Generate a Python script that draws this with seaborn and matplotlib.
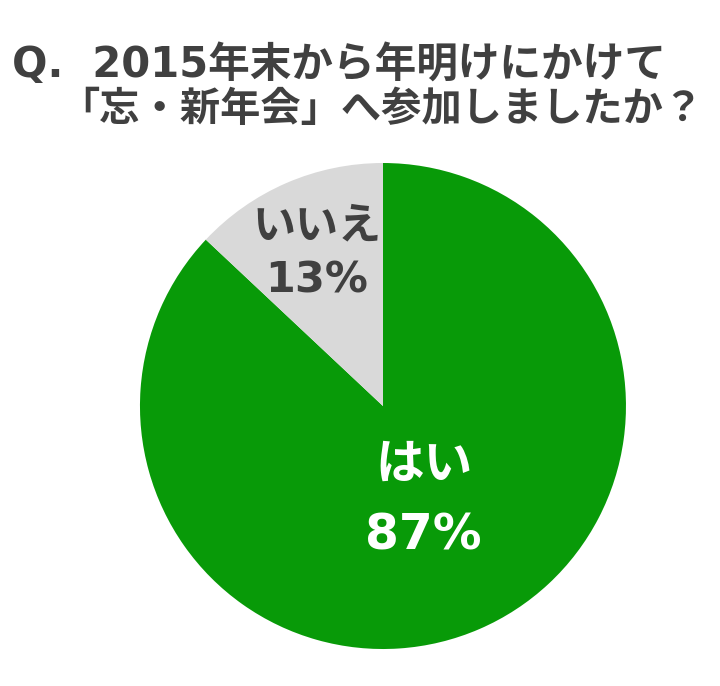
import numpy as np
import matplotlib.pyplot as plt
import seaborn as sns

# データ
labels = ['はい', 'いいえ']
values = [87, 13]
colors = ['#089A08', '#D9D9D9']
text_colors = ['white', '#404040']
title_lines = ['Q.  2015年末から年明けにかけて', '「忘・新年会」へ参加しましたか？']

sns.set_theme(style='white')
# 英数字は DejaVu Sans、かなと漢字は Noto Sans CJK JP
plt.rcParams['font.family'] = ['DejaVu Sans', 'Noto Sans CJK JP']

fig = plt.figure(figsize=(7.2, 6.86), dpi=100)
ax = fig.add_axes([0.1944, 0.0539, 0.675, 0.7085])

wedges, _ = ax.pie(values, colors=colors, startangle=90, counterclock=False,
                   wedgeprops={'linewidth': 0})
ax.set_xlim(-1, 1)
ax.set_ylim(-1, 1)
ax.set_aspect('equal')

# ラベル（扇形の中央角から配置）
label_r = [0.42, 0.685]
label_size = [35, 31]
label_ls = [1.6, 1.36]
for w, lab, v, r, fs, ls, tc in zip(wedges, labels, values, label_r, label_size, label_ls, text_colors):
    ang = np.deg2rad((w.theta1 + w.theta2) / 2)
    ax.text(r * np.cos(ang), r * np.sin(ang), f'{lab}\n{v}%', ha='center', va='center',
            fontsize=fs, fontweight='bold', color=tc, linespacing=ls)

fig.text(0.017, 0.905, title_lines[0], fontsize=30, fontweight='bold',
         color='#404040', ha='left', va='center')
fig.text(0.977, 0.840, title_lines[1], fontsize=29, fontweight='bold',
         color='#404040', ha='right', va='center')

fig.savefig('out.png', dpi=100)
